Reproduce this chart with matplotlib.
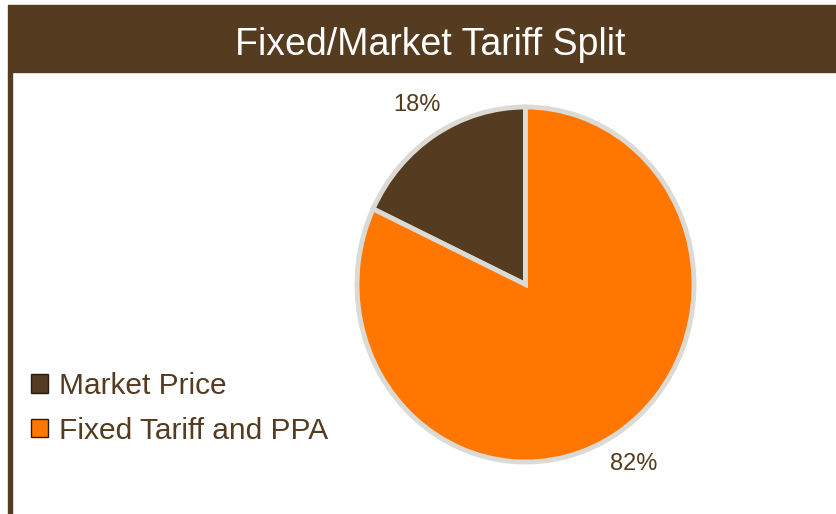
import matplotlib.pyplot as plt
from matplotlib.patches import Rectangle, Patch

# data
labels = ['Market Price', 'Fixed Tariff and PPA']
shares = [18, 82]
colors = ['#553B1F', '#FF7700']

brown = '#553B1F'
plt.rcParams['font.family'] = ['Liberation Sans', 'DejaVu Sans']

W, H = 837, 514
fig = plt.figure(figsize=(W / 100, H / 100), dpi=100)

# title bar and left border
fig.patches.append(Rectangle((8 / W, (H - 72) / H), (W - 8) / W, 67 / H,
                             transform=fig.transFigure, color=brown, zorder=0))
fig.patches.append(Rectangle((8 / W, 0), 4 / W, (H - 72) / H,
                             transform=fig.transFigure, color=brown, zorder=0))
fig.text(430 / W, (H - 55) / H, 'Fixed/Market Tariff Split', color='white',
         fontsize=27, ha='center', va='baseline')

# pie (slightly taller than wide, like the original)
ax = fig.add_axes([357 / W, 52 / H, 337 / W, 355 / H])
wedges, texts, autotexts = ax.pie(
    shares, colors=colors, startangle=90, counterclock=True,
    autopct='%1.0f%%', pctdistance=1.2,
    wedgeprops=dict(edgecolor='#DCDAD4', linewidth=3.5),
    textprops=dict(color=brown, fontsize=17))
ax.set_aspect('auto')
ax.set_xlim(-1, 1)
ax.set_ylim(-1, 1)

handles = [Patch(facecolor=c, edgecolor='#2a1d0f', linewidth=1) for c in colors]
leg = fig.legend(handles, labels, loc='upper left',
                 bbox_to_anchor=(31 / W, (H - 372) / H),
                 frameon=False, fontsize=21.5, handlelength=0.57, handleheight=0.57,
                 handletextpad=0.36, labelspacing=0.56, borderpad=0, borderaxespad=0)
for t in leg.get_texts():
    t.set_color(brown)

fig.savefig('out.png', dpi=100)
